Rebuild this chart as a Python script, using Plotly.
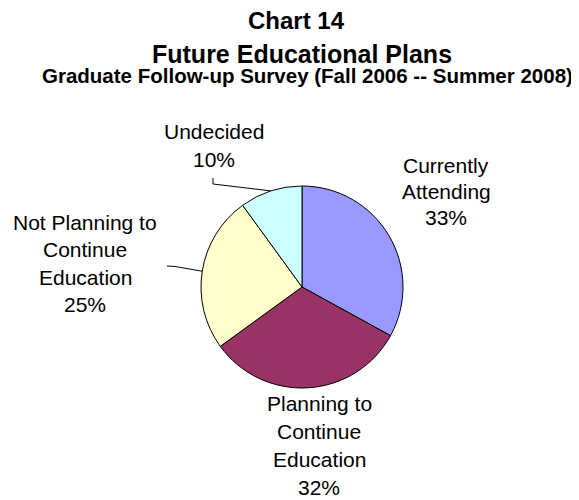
import math
import plotly.graph_objects as go

categories = ["Currently Attending", "Planning to Continue Education",
              "Not Planning to Continue Education", "Undecided"]
values = [33, 32, 25, 10]
colors = ["#9999FF", "#993366", "#FFFFCC", "#CCFFFF"]
label_lines = [["Currently", "Attending"],
               ["Planning to", "Continue", "Education"],
               ["Not Planning to", "Continue", "Education"],
               ["Undecided"]]

OFF = 8                      # page body margin
W, H = 579 - OFF, 500 - OFF  # figure size
cx, cy, R = 302, 287, 101    # pie center / radius in page pixels
FONT = "Liberation Sans, Arial"

def px(x):
    return (x - OFF) / W

def py(y):
    return 1 - (y - OFF) / H

fig = go.Figure(go.Pie(
    labels=categories, values=values, sort=False, direction="clockwise",
    rotation=0, marker=dict(colors=colors, line=dict(color="#000000", width=1)),
    textinfo="none", hoverinfo="label+percent", showlegend=False,
    domain=dict(x=[px(cx - R), px(cx + R)], y=[py(cy + R), py(cy - R)]),
))

# label positions (layout): center x, first-line y, line spacing
label_pos = [(446, 165, 26.5), (319, 403, 28), (85, 222, 27.5), (214, 132, 27)]
total = sum(values)
annotations = []
for lines, v, (lx, ly, sp) in zip(label_lines, values, label_pos):
    allines = lines + [f"{round(100 * v / total)}%"]
    for i, t in enumerate(allines):
        annotations.append(dict(
            text=t, x=px(lx), y=py(ly + i * sp), xref="paper", yref="paper",
            showarrow=False, xanchor="center", yanchor="middle",
            font=dict(family=FONT, size=21, color="#000000")))

# leader lines from slice mid-angle on edge to label
cum = 0
mids = []
for v in values:
    mids.append((cum + v / 2) / total * 2 * math.pi)
    cum += v
shapes = []
leader = {3: [(213, 178), (213, 184)], 2: [(167, 266), (175, 266.5)]}
for idx, pts in leader.items():
    a = mids[idx]
    ex, ey = cx + R * math.sin(a), cy - R * math.cos(a)
    allpts = pts + [(ex, ey)]
    path = "M " + " L ".join(f"{px(x):.4f},{py(y):.4f}" for x, y in allpts)
    shapes.append(dict(type="path", path=path, xref="paper", yref="paper",
                       line=dict(color="#000000", width=1)))

# titles
annotations += [
    dict(text="<b>Chart 14</b>", x=px(296), y=py(20), xref="paper", yref="paper",
         showarrow=False, xanchor="center", yanchor="middle",
         font=dict(family=FONT, size=24, color="#000000")),
    dict(text="<b>Future Educational Plans</b>", x=px(302), y=py(54), xref="paper",
         yref="paper", showarrow=False, xanchor="center", yanchor="middle",
         font=dict(family=FONT, size=25, color="#000000")),
    dict(text="<b>Graduate Follow-up Survey (Fall 2006 -- Summer 2008)</b>",
         x=px(40), y=py(76), xref="paper", yref="paper", showarrow=False,
         xanchor="left", yanchor="middle",
         font=dict(family=FONT, size=20.5, color="#000000")),
]

fig.update_layout(width=W, height=H, margin=dict(l=0, r=0, t=0, b=0),
                  paper_bgcolor="#FFFFFF", plot_bgcolor="#FFFFFF",
                  annotations=annotations, shapes=shapes)
fig.write_html("out.html")
